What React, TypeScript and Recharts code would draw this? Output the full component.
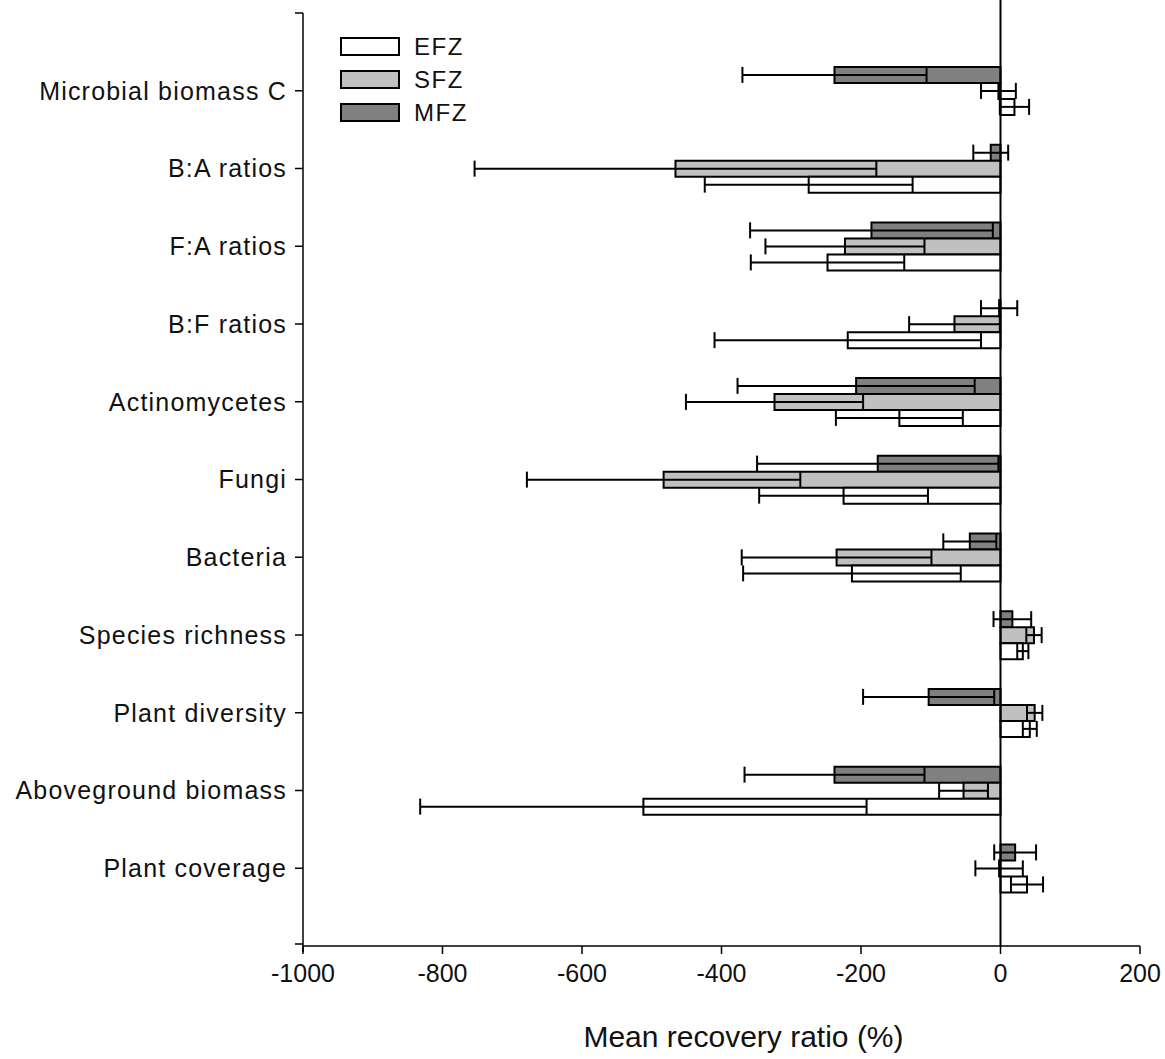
import React from 'react';
import { BarChart, Bar, XAxis, YAxis, ErrorBar, ReferenceLine, Legend } from 'recharts';

const CATEGORIES = [
  'Microbial biomass C',
  'B:A ratios',
  'F:A ratios',
  'B:F ratios',
  'Actinomycetes',
  'Fungi',
  'Bacteria',
  'Species richness',
  'Plant diversity',
  'Aboveground biomass',
  'Plant coverage',
];

const EFZ = [20, -275, -248, -219, -145, -225, -213, 32, 42, -512, 38];
const EFZ_ERR = [21, 149, 110, 191, 91, 121, 156, 8, 10, 320, 23];
const SFZ = [-3, -466, -223, -66, -324, -483, -235, 48, 49, -53, -2];
const SFZ_ERR = [25, 288, 114, 65, 127, 196, 136, 11, 11, 35, 34];
const MFZ = [-238, -14, -185, -2, -207, -176, -44, 17, -103, -238, 21];
const MFZ_ERR = [132, 25, 174, 26, 170, 173, 38, 27, 94, 129, 30];

const X_TICKS = [-1000, -800, -600, -400, -200, 0, 200];
const X_DOMAIN: [number, number] = [-1000, 200];
const X_TITLE = 'Mean recovery ratio (%)';

// drawing order top->bottom within a group
const SERIES = [
  { key: 'MFZ', fill: '#808080' },
  { key: 'SFZ', fill: '#c0c0c0' },
  { key: 'EFZ', fill: '#ffffff' },
];
const LEGEND_ORDER = ['EFZ', 'SFZ', 'MFZ'];

const data = CATEGORIES.map((cat, i) => ({
  cat,
  EFZ: EFZ[i],
  EFZ_err: EFZ_ERR[i],
  SFZ: SFZ[i],
  SFZ_err: SFZ_ERR[i],
  MFZ: MFZ[i],
  MFZ_err: MFZ_ERR[i],
}));

const W = 1165;
const H = 1059;
const TOP = 13;
const RIGHT = 25;
const Y_AXIS_W = 303;
const X_AXIS_H = 113;
const PLOT_H = H - TOP - X_AXIS_H;
const PLOT_W = W - Y_AXIS_W - RIGHT;
const PAD = PLOT_H / (CATEGORIES.length + 1) / 2;
const FONT = '"Liberation Sans", Arial, sans-serif';

const fillOf = (k: string) => SERIES.find((s) => s.key === k)!.fill;

const LegendContent = () => (
  <div style={{ fontFamily: FONT }}>
    {LEGEND_ORDER.map((k) => (
      <div key={k} style={{ display: 'flex', alignItems: 'center', height: 33 }}>
        <div
          style={{
            width: 56,
            height: 15,
            background: fillOf(k),
            border: '2px solid #000',
            marginRight: 14,
          }}
        />
        <span style={{ fontSize: 24, color: '#111', letterSpacing: 1.5 }}>{k}</span>
      </div>
    ))}
  </div>
);

export default function App() {
  const zeroX = Y_AXIS_W + ((0 - X_DOMAIN[0]) / (X_DOMAIN[1] - X_DOMAIN[0])) * PLOT_W;
  const plotBottom = TOP + PLOT_H;
  return (
    <div style={{ position: 'absolute', left: 0, top: 0, width: W, height: H, background: '#fff' }}>
      <BarChart
        width={W}
        height={H}
        data={data}
        layout="vertical"
        margin={{ top: TOP, right: RIGHT, bottom: 0, left: 0 }}
        barGap={0}
      >
        <XAxis
          type="number"
          domain={X_DOMAIN}
          ticks={X_TICKS}
          allowDataOverflow
          height={X_AXIS_H}
          tickSize={8}
          tickMargin={10}
          stroke="#000"
          axisLine={{ stroke: '#000', strokeWidth: 1.5 }}
          tickLine={{ stroke: '#000', strokeWidth: 1.5 }}
          tick={{ fill: '#111', fontSize: 25, fontFamily: FONT }}
          label={{
            value: X_TITLE,
            position: 'insideBottom',
            offset: 12,
            dx: 22,
            style: { fontSize: 30, fill: '#111', fontFamily: FONT, textAnchor: 'middle' },
          }}
        />
        <YAxis
          type="category"
          dataKey="cat"
          width={Y_AXIS_W}
          padding={{ top: PAD, bottom: PAD }}
          tickSize={8}
          tickMargin={8}
          interval={0}
          axisLine={{ stroke: '#000', strokeWidth: 1.5 }}
          tickLine={{ stroke: '#000', strokeWidth: 1.5 }}
          tick={{ fill: '#111', fontSize: 25, fontFamily: FONT, letterSpacing: 1.2 }}
        />
        <Legend
          layout="vertical"
          align="center"
          verticalAlign="middle"
          content={<LegendContent />}
          wrapperStyle={{ left: 340, top: 30, width: 160, height: 110 }}
        />
        {SERIES.map((s) => (
          <Bar
            key={s.key}
            dataKey={s.key}
            fill={s.fill}
            stroke="#000"
            strokeWidth={2}
            barSize={16}
            isAnimationActive={false}
          >
            <ErrorBar dataKey={`${s.key}_err`} direction="x" width={8} stroke="#000" strokeWidth={2} />
          </Bar>
        ))}
        <ReferenceLine x={0} stroke="#000" strokeWidth={2} />
      </BarChart>
      <svg
        width={W}
        height={H}
        style={{ position: 'absolute', left: 0, top: 0, pointerEvents: 'none' }}
      >
        <line x1={Y_AXIS_W - 8} x2={Y_AXIS_W} y1={TOP} y2={TOP} stroke="#000" strokeWidth={1.5} />
        <line x1={Y_AXIS_W - 8} x2={Y_AXIS_W} y1={plotBottom - 2} y2={plotBottom - 2} stroke="#000" strokeWidth={1.5} />
        <line x1={Y_AXIS_W} x2={Y_AXIS_W} y1={plotBottom} y2={plotBottom + 6} stroke="#000" strokeWidth={1.5} />
        <line x1={zeroX} x2={zeroX} y1={0} y2={TOP} stroke="#000" strokeWidth={2} />
      </svg>
    </div>
  );
}
